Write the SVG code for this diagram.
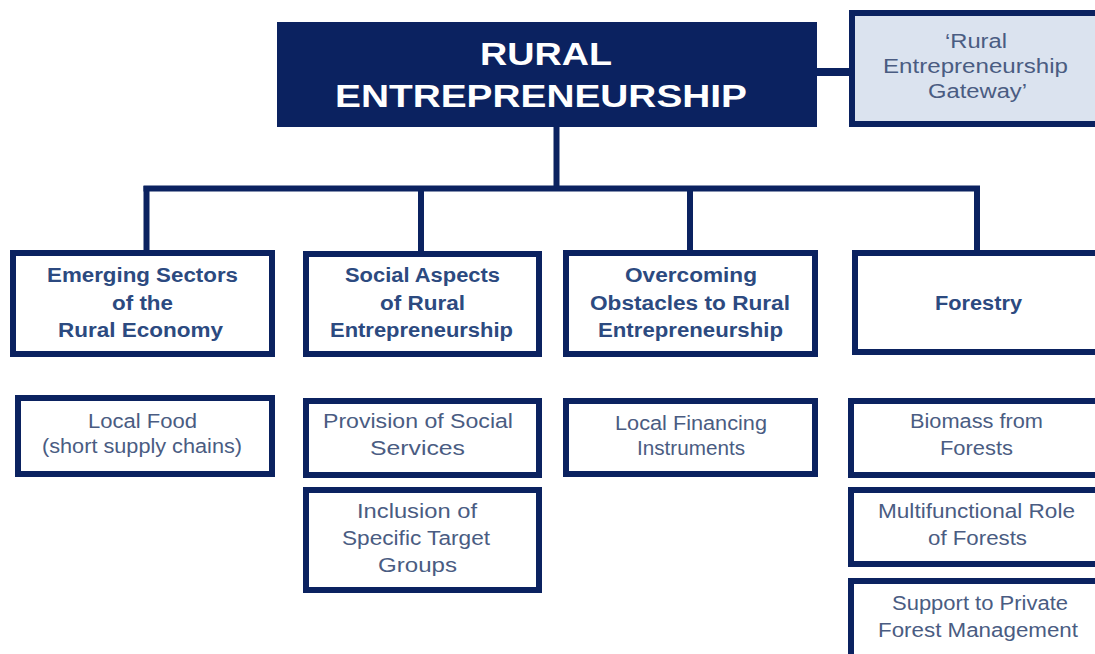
<svg xmlns="http://www.w3.org/2000/svg" width="1095" height="654" viewBox="0 0 1095 654">
  <style>
    .box { fill: #ffffff; stroke: #0b2260; stroke-width: 6; }
    .gate { fill: #dbe3ef; stroke: #0b2260; stroke-width: 6; }
    .root { fill: #0b2260; }
    .line { stroke: #0b2260; stroke-width: 6; fill: none; stroke-linecap: butt; }
    .title { font-family: "Liberation Sans", Arial, sans-serif; font-weight: bold; font-size: 31px; fill: #ffffff; text-anchor: middle; }
    .head { font-family: "Liberation Sans", Arial, sans-serif; font-weight: bold; font-size: 20px; fill: #2c4a80; text-anchor: middle; }
    .sub { font-family: "Liberation Sans", Arial, sans-serif; font-size: 20px; fill: #4a5c82; text-anchor: middle; }
  </style>
  <rect width="1095" height="654" fill="#ffffff"/>

  <!-- connectors -->
  <g id="connectors">
    <line class="line" x1="817" y1="72" x2="852" y2="72" style="stroke-width:8"/>
    <line class="line" x1="556.5" y1="126" x2="556.5" y2="189"/>
    <line class="line" x1="143.5" y1="188.5" x2="980" y2="188.5"/>
    <line class="line" x1="146.5" y1="186" x2="146.5" y2="252"/>
    <line class="line" x1="421" y1="186" x2="421" y2="252"/>
    <line class="line" x1="690" y1="186" x2="690" y2="252"/>
    <line class="line" x1="977" y1="186" x2="977" y2="252"/>
  </g>

  <!-- root -->
  <g id="rural-entrepreneurship">
    <rect class="root" x="277" y="22" width="540" height="105"/>
    <text class="title" x="546" y="65" textLength="132" lengthAdjust="spacingAndGlyphs">RURAL</text>
    <text class="title" x="541" y="107" textLength="412" lengthAdjust="spacingAndGlyphs">ENTREPRENEURSHIP</text>
  </g>

  <g id="gateway">
    <rect class="gate" x="852" y="13" width="252" height="111"/>
    <text class="sub" x="976" y="48" textLength="62" lengthAdjust="spacingAndGlyphs">‘Rural</text>
    <text class="sub" x="975.5" y="73" textLength="185" lengthAdjust="spacingAndGlyphs">Entrepreneurship</text>
    <text class="sub" x="977.5" y="98" textLength="99" lengthAdjust="spacingAndGlyphs">Gateway’</text>
  </g>

  <!-- second level -->
  <g id="emerging-sectors">
    <rect class="box" x="13" y="253" width="259" height="101"/>
    <text class="head" x="142.5" y="282" textLength="191" lengthAdjust="spacingAndGlyphs">Emerging Sectors</text>
    <text class="head" x="142.5" y="310" textLength="61" lengthAdjust="spacingAndGlyphs">of the</text>
    <text class="head" x="140.5" y="337" textLength="165" lengthAdjust="spacingAndGlyphs">Rural Economy</text>
  </g>

  <g id="social-aspects">
    <rect class="box" x="306" y="254" width="233" height="100"/>
    <text class="head" x="422.5" y="282" textLength="155" lengthAdjust="spacingAndGlyphs">Social Aspects</text>
    <text class="head" x="422.5" y="310" textLength="85" lengthAdjust="spacingAndGlyphs">of Rural</text>
    <text class="head" x="421.5" y="337" textLength="183" lengthAdjust="spacingAndGlyphs">Entrepreneurship</text>
  </g>

  <g id="overcoming-obstacles">
    <rect class="box" x="566" y="253" width="249" height="101"/>
    <text class="head" x="691" y="282" textLength="132" lengthAdjust="spacingAndGlyphs">Overcoming</text>
    <text class="head" x="690" y="310" textLength="200" lengthAdjust="spacingAndGlyphs">Obstacles  to Rural</text>
    <text class="head" x="690.5" y="337" textLength="185" lengthAdjust="spacingAndGlyphs">Entrepreneurship</text>
  </g>

  <g id="forestry">
    <rect class="box" x="855" y="253" width="250" height="99"/>
    <text class="head" x="978.5" y="310" textLength="87" lengthAdjust="spacingAndGlyphs">Forestry</text>
  </g>

  <!-- third level -->
  <g id="local-food">
    <rect class="box" x="18" y="398" width="254" height="76"/>
    <text class="sub" x="142.5" y="428" textLength="109" lengthAdjust="spacingAndGlyphs">Local Food</text>
    <text class="sub" x="142" y="453" textLength="200" lengthAdjust="spacingAndGlyphs">(short supply chains)</text>
  </g>

  <g id="provision-social-services">
    <rect class="box" x="306" y="401" width="233" height="74"/>
    <text class="sub" x="418" y="428" textLength="190" lengthAdjust="spacingAndGlyphs">Provision of Social</text>
    <text class="sub" x="417.5" y="455" textLength="95" lengthAdjust="spacingAndGlyphs">Services</text>
  </g>

  <g id="inclusion-target-groups">
    <rect class="box" x="306" y="490" width="233" height="100"/>
    <text class="sub" x="417" y="518" textLength="120" lengthAdjust="spacingAndGlyphs">Inclusion  of</text>
    <text class="sub" x="416" y="545" textLength="148" lengthAdjust="spacingAndGlyphs">Specific Target</text>
    <text class="sub" x="417.5" y="572" textLength="79" lengthAdjust="spacingAndGlyphs">Groups</text>
  </g>

  <g id="local-financing">
    <rect class="box" x="566" y="401" width="249" height="73"/>
    <text class="sub" x="691" y="430" textLength="152" lengthAdjust="spacingAndGlyphs">Local Financing</text>
    <text class="sub" x="691" y="455" textLength="108" lengthAdjust="spacingAndGlyphs">Instruments</text>
  </g>

  <g id="biomass">
    <rect class="box" x="851" y="401" width="252" height="74"/>
    <text class="sub" x="976.5" y="428" textLength="133" lengthAdjust="spacingAndGlyphs">Biomass from</text>
    <text class="sub" x="976.5" y="455" textLength="73" lengthAdjust="spacingAndGlyphs">Forests</text>
  </g>

  <g id="multifunctional-role">
    <rect class="box" x="851" y="490" width="252" height="74"/>
    <text class="sub" x="976.5" y="518" textLength="197" lengthAdjust="spacingAndGlyphs">Multifunctional  Role</text>
    <text class="sub" x="977.5" y="545" textLength="99" lengthAdjust="spacingAndGlyphs">of Forests</text>
  </g>

  <g id="private-forest-management">
    <rect class="box" x="851" y="581" width="252" height="90"/>
    <text class="sub" x="980" y="610" textLength="176" lengthAdjust="spacingAndGlyphs">Support to Private</text>
    <text class="sub" x="978" y="637" textLength="200" lengthAdjust="spacingAndGlyphs">Forest  Management</text>
  </g>
</svg>
